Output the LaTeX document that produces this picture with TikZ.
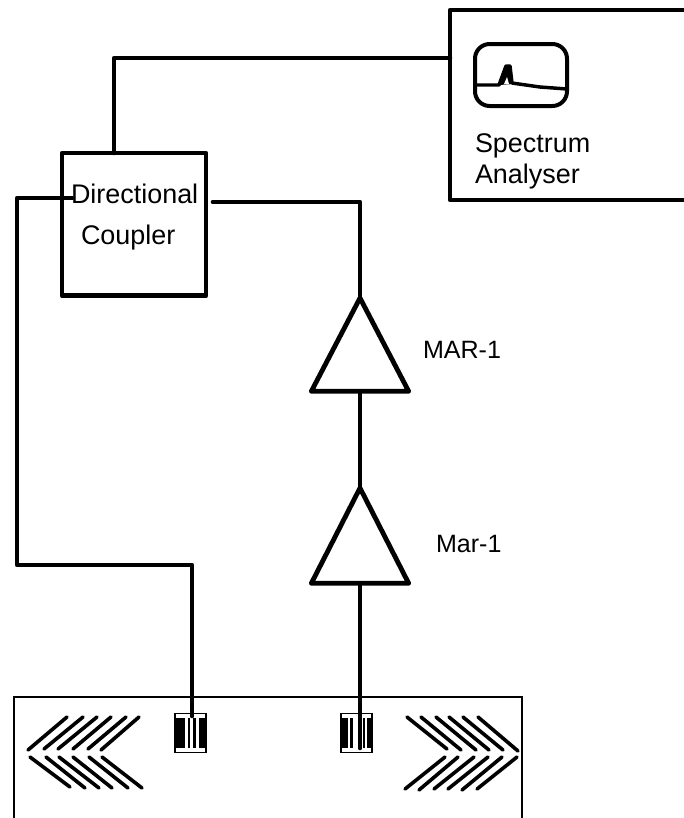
\documentclass[tikz,border=0pt]{standalone}
\usepackage{fontspec}
\setmainfont{Liberation Sans}
\usetikzlibrary{shapes.geometric}
\tikzset{
  wire/.style={line width=3.5pt,line join=round,line cap=round},
  heavy/.style={draw,line width=3.6pt,line join=round,inner sep=0pt,outer sep=0pt},
  amp/.style={heavy,isosceles triangle,isosceles triangle stretches,shape border rotate=90,minimum width=73pt,minimum height=70pt},
  lbl/.style={inner sep=0pt,outer sep=0pt,anchor=base west,font=\fontsize{20.2}{21}\selectfont},
  lbs/.style={lbl,font=\fontsize{18.8}{21}\selectfont},
  finger/.style={line width=2.7pt,line cap=round},
  thin/.style={draw,line width=1.6pt,inner sep=0pt,outer sep=0pt},
  idt/.style={draw,line width=1.2pt,inner sep=0pt,outer sep=0pt,minimum width=23pt,minimum height=29pt,fill=white},
}
\begin{document}
\begin{tikzpicture}[x=0.75pt,y=-0.75pt]
\useasboundingbox (0,0) rectangle (684,818);
\clip (0,0) rectangle (684,818);
% substrate
\node[thin,anchor=north west,minimum width=381pt,minimum height=110pt] (sub) at (14,697) {};
% boxes
\node[heavy,anchor=north west,minimum width=200pt,minimum height=142.5pt] (sa) at (450,10) {};
\node[heavy,anchor=north west,minimum width=108pt,minimum height=107pt] (dc) at (62,153) {};
% amplifiers
\node[amp,anchor=apex] (a1) at (360,298) {};
\node[amp,anchor=apex,minimum height=71.5pt] (a2) at (360,488) {};
% IDTs
\node[idt] (t1) at (190.5,733) {};
\node[idt] (t2) at (356.5,733) {};
\fill (176,718) rectangle (185,748);
\fill (187.5,718) rectangle (189.5,748);
\fill (193,718) rectangle (196,748);
\fill (198.5,718) rectangle (204.5,748);
\fill (342,718) rectangle (347.5,748);
\fill (350,718) rectangle (352.5,748);
\fill (363,718) rectangle (365,748);
\fill (367,718) rectangle (371,748);
% connectors
\coordinate (c1) at (114,58);
\coordinate (c2) at (17,198);
\coordinate (c3) at (72,198);
\coordinate (c4) at (17,565);
\coordinate (c5) at (192,565);
\coordinate (c6) at (213,202);
\coordinate (c7) at (360,202);
\coordinate (e1) at (192,716);
\coordinate (e2) at (360,748);
\draw[wire] (sa.west |- c1) -- (c1) -- (dc.north -| c1);
\draw[wire] (c3) -- (c2) -- (c4) -- (c5) -- (e1);
\draw[wire] (c6) -- (c7) -- (a1.apex);
\draw[wire] (a1.south -| a1.apex) -- (a2.apex);
\draw[wire] (a2.south -| a2.apex) -- (e2);
% labels
\node[lbl] (ldc1) at (71,203) {Directional};
\node[lbl] (ldc2) at (81,244) {Coupler};
\node[lbl] (lsa1) at (475,152) {Spectrum};
\node[lbl] (lsa2) at (475,183) {Analyser};
\node[lbs] (la1) at (423,358) {MAR-1};
\node[lbs] (la2) at (436,552) {Mar-1};
% screen
\draw[line width=3pt,rounded corners=11pt] (475,44) rectangle (567,106);
\draw[line width=2.6pt,line join=round] (475,85) -- (499,85) -- (506,66) -- (510,66) -- (512,83) -- (540,87) -- (567,89);
\fill (499,85) -- (506,66) -- (510,66) -- (513,84) -- cycle;
\fill[white] (504,84) -- (507,77) -- (509,84) -- cycle;
% left chevrons
\foreach \a/\b/\c/\d in {28/750/67/717,44/749/83/717,58/749/97/717,73/749/111/717,88/749/126/717,101/750/139/717,
  30/757/70/787,46/757/85/788,59/757/99/788,73/757/112/788,89/757/128/788,102/757/142/788}
  \draw[finger] (\a,\b) -- (\c,\d);
% right chevrons
\foreach \a/\b/\c/\d in {407/717/447/749,421/717/461/750,436/717/476/750,449/717/489/750,463/717/503/750,478/717/518/751,
  405/789/445/757,419/790/458/757,434/789/474/757,448/789/488/757,462/790/502/757,477/789/517/757}
  \draw[finger] (\a,\b) -- (\c,\d);
\end{tikzpicture}
\end{document}
